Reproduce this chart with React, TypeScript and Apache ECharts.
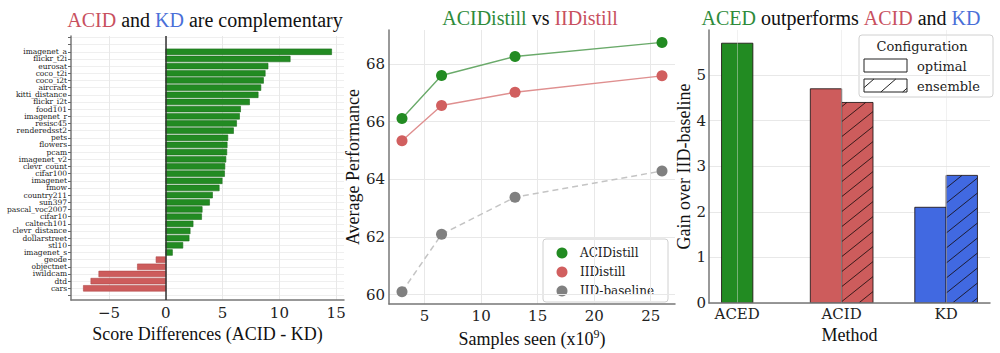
import React, { useEffect, useRef } from 'react';
import * as echarts from 'echarts';

// ---------- data ----------
const categories = ['imagenet_a', 'flickr_t2i', 'eurosat', 'coco_t2i', 'coco_i2t', 'aircraft', 'kitti_distance', 'flickr_i2t', 'food101', 'imagenet_r', 'resisc45', 'renderedsst2', 'pets', 'flowers', 'pcam', 'imagenet_v2', 'clevr_count', 'cifar100', 'imagenet', 'fmow', 'country211', 'sun397', 'pascal_voc2007', 'cifar10', 'caltech101', 'clevr_distance', 'dollarstreet', 'stl10', 'imagenet_s', 'geode', 'objectnet', 'iwildcam', 'dtd', 'cars'];
const scoreDiffs = [14.6, 10.95, 9.0, 8.75, 8.6, 8.37, 8.13, 7.37, 6.58, 6.49, 6.23, 5.96, 5.46, 5.4, 5.37, 5.29, 5.2, 5.17, 4.96, 4.7, 4.11, 3.85, 3.2, 3.15, 2.4, 2.14, 2.05, 1.5, 0.58, -0.86, -2.5, -5.9, -6.6, -7.26];

const samplesSeen = [3, 6.5, 13, 26];
const acidistill = [66.11, 67.6, 68.26, 68.75];
const iidistill = [65.34, 66.56, 67.02, 67.59];
const iidBaseline = [60.1, 62.09, 63.38, 64.29];

const methods = ['ACED', 'ACID', 'KD'];
const optimalGain = [5.7, 4.7, 2.1];
const ensembleGain: (number | null)[] = [null, 4.4, 2.8];

// ---------- styles ----------
const GREEN = '#228B22';
const RED = '#CD5C5C';
const BLUE = '#4169E1';
const T_GREEN = '#2e8b3a';
const T_RED = '#c8505e';
const T_BLUE = '#4a6fd8';
const methodColors = [GREEN, RED, BLUE];
const SERIF_T = "'Liberation Serif', 'Times New Roman', serif";
const SERIF_L = "'DejaVu Serif', serif";
const SPINE = '#777';
const GRIDC = '#e8e8e8';

const LEFT_MIN = -8.35, LEFT_MAX = 15.69;
const LEFT_YMIN = -2.2, LEFT_YMAX = 34.63;

function hatchLines(x0: number, y0: number, x1: number, y1: number, spacing: number, slope: number, stroke: string) {
  const out: any[] = [];
  const kmin = y0 + slope * x0;
  const kmax = y1 + slope * x1;
  for (let k = Math.ceil(kmin / spacing) * spacing; k <= kmax; k += spacing) {
    const xa = Math.max(x0, (k - y1) / slope);
    const xb = Math.min(x1, (k - y0) / slope);
    if (xb - xa > 0.5) {
      out.push({
        type: 'line',
        shape: { x1: xa, y1: k - slope * xa, x2: xb, y2: k - slope * xb },
        style: { stroke, lineWidth: 1 },
      });
    }
  }
  return out;
}

const minusFmt = (v: number) => (v < 0 ? '\u2212' + Math.abs(v) : String(v));

export default function App() {
  const ref = useRef<HTMLDivElement>(null);
  useEffect(() => {
    if (!ref.current) return;
    const chart = echarts.init(ref.current, undefined, { renderer: 'svg' });

    const leftData = scoreDiffs.map((v, i) => [v, i]);
    const rightData: any[] = [];
    methods.forEach((_, i) => {
      const hasEns = ensembleGain[i] != null;
      rightData.push([i, optimalGain[i], hasEns ? -0.15 : 0, 0]);
      if (hasEns) rightData.push([i, ensembleGain[i], 0.15, 1]);
    });

    const tickLabel = { fontFamily: SERIF_L, fontSize: 15, color: '#222' };
    const nameStyle = { fontFamily: SERIF_T, fontSize: 18, color: '#111' };
    const spine = { show: true, onZero: false, lineStyle: { color: SPINE, width: 1.5 } };

    const option: any = {
      animation: false,
      backgroundColor: '#fff',
      grid: [
        { left: 71, top: 36, width: 273, height: 264 },
        { left: 389, top: 30, width: 286, height: 278 },
        { left: 709, top: 30, width: 281, height: 273 },
      ],
      xAxis: [
        {
          gridIndex: 0, type: 'value', min: LEFT_MIN, max: LEFT_MAX, minInterval: 5, maxInterval: 5,
          axisLine: spine,
          axisTick: { show: false },
          axisLabel: { ...tickLabel, margin: 5, formatter: minusFmt, showMinLabel: false, showMaxLabel: false },
          splitLine: { show: true, showMinLine: false, showMaxLine: false, lineStyle: { color: GRIDC, width: 1 } },
          name: 'Score Differences (ACID - KD)', nameLocation: 'middle', nameGap: 6, nameTextStyle: nameStyle,
        },
        {
          gridIndex: 1, type: 'value', min: 1.85, max: 27.15, minInterval: 5, maxInterval: 5,
          axisLine: spine,
          axisTick: { show: false },
          axisLabel: { ...tickLabel, margin: 4, showMinLabel: false, showMaxLabel: false },
          splitLine: { show: true, showMinLine: false, showMaxLine: false, lineStyle: { color: GRIDC, width: 1 } },
          name: '{a|Samples seen (x10}{s|9}{a|)}', nameLocation: 'middle', nameGap: 16,
          nameTextStyle: {
            rich: {
              a: { fontFamily: SERIF_T, fontSize: 18, color: '#111' },
              s: { fontFamily: SERIF_T, fontSize: 12, color: '#111', padding: [0, 0, 10, 0] },
            },
          },
        },
        {
          gridIndex: 2, type: 'value', min: -0.27, max: 2.42, minInterval: 1, maxInterval: 1, z: 3,
          axisLine: spine,
          axisTick: { show: false },
          axisLabel: {
            ...tickLabel, margin: 3, showMinLabel: false, showMaxLabel: false,
            formatter: (v: number) => methods[Math.round(v)] ?? '',
          },
          splitLine: { show: true, showMinLine: false, showMaxLine: false, lineStyle: { color: 'rgba(225,225,225,0.45)', width: 1 } },
          name: 'Method', nameLocation: 'middle', nameGap: 17, nameTextStyle: nameStyle,
        },
      ],
      yAxis: [
        {
          gridIndex: 0, type: 'value', inverse: true, min: LEFT_YMIN, max: LEFT_YMAX, minInterval: 1, maxInterval: 1,
          axisLine: spine,
          axisTick: { show: true, length: 3, lineStyle: { color: '#666' } },
          axisLabel: {
            fontFamily: SERIF_L, fontSize: 7.5, lineHeight: 7, color: '#222', margin: 4,
            showMinLabel: false, showMaxLabel: false,
            formatter: (v: number) => {
              const i = Math.round(v);
              return Math.abs(v - i) < 1e-6 && i >= 0 && i < categories.length ? categories[i] : '';
            },
          },
          splitLine: { show: true, showMinLine: false, showMaxLine: false, lineStyle: { color: '#efefef', width: 1 } },
        },
        {
          gridIndex: 1, type: 'value', min: 59.67, max: 69.18, minInterval: 2, maxInterval: 2,
          axisLine: spine,
          axisTick: { show: false },
          axisLabel: { ...tickLabel, margin: 4, showMinLabel: false, showMaxLabel: false },
          splitLine: { show: true, showMinLine: false, showMaxLine: false, lineStyle: { color: GRIDC, width: 1 } },
          name: 'Average Performance', nameLocation: 'middle', nameGap: 20, nameTextStyle: nameStyle,
        },
        {
          gridIndex: 2, type: 'value', min: 0, max: 5.99, interval: 1,
          axisLine: spine,
          axisTick: { show: false },
          axisLabel: { ...tickLabel, margin: 3, showMaxLabel: false },
          splitLine: { show: true, showMaxLine: false, lineStyle: { color: GRIDC, width: 1 } },
          name: 'Gain over IID-baseline', nameLocation: 'middle', nameGap: 15, nameTextStyle: nameStyle,
        },
      ],
      series: [
        {
          type: 'custom', xAxisIndex: 0, yAxisIndex: 0, clip: true,
          data: leftData,
          encode: { x: 0, y: 1 },
          renderItem: (params: any, api: any) => {
            const v = api.value(0);
            const i = api.value(1);
            const p0 = api.coord([0, i]);
            const p1 = api.coord([v, i]);
            const h = api.size([0, 1])[1] * 0.8;
            const c = v >= 0 ? GREEN : RED;
            return {
              type: 'rect',
              shape: { x: Math.min(p0[0], p1[0]), y: p0[1] - h / 2, width: Math.abs(p1[0] - p0[0]), height: h },
              style: { fill: c, stroke: v >= 0 ? '#1d6e1d' : '#b04a4a', lineWidth: 0.6 },
            };
          },
          markLine: {
            silent: true, symbol: ['none', 'none'], label: { show: false },
            lineStyle: { color: '#333', width: 1.5, type: 'solid' },
            data: [[{ coord: [0, LEFT_YMIN] }, { coord: [0, LEFT_YMAX] }]],
          },
          z: 2,
        },
        {
          type: 'line', name: 'IID-baseline', xAxisIndex: 1, yAxisIndex: 1,
          data: samplesSeen.map((x, i) => [x, iidBaseline[i]]),
          symbol: 'circle', symbolSize: 11,
          itemStyle: { color: '#808080' },
          lineStyle: { color: '#c4c4c4', width: 1.5, type: [6, 4] },
        },
        {
          type: 'line', name: 'IIDistill', xAxisIndex: 1, yAxisIndex: 1,
          data: samplesSeen.map((x, i) => [x, iidistill[i]]),
          symbol: 'circle', symbolSize: 11,
          itemStyle: { color: '#d15f5f' },
          lineStyle: { color: '#df8f8f', width: 1.4 },
        },
        {
          type: 'line', name: 'ACIDistill', xAxisIndex: 1, yAxisIndex: 1,
          data: samplesSeen.map((x, i) => [x, acidistill[i]]),
          symbol: 'circle', symbolSize: 11,
          itemStyle: { color: GREEN },
          lineStyle: { color: '#6aaa6a', width: 1.4 },
        },
        {
          type: 'custom', xAxisIndex: 2, yAxisIndex: 2, clip: true,
          data: rightData,
          encode: { x: 0, y: 1 },
          renderItem: (params: any, api: any) => {
            const idx = api.value(0);
            const val = api.value(1);
            const off = api.value(2);
            const hatch = api.value(3);
            const tl = api.coord([idx + off - 0.15, val]);
            const br = api.coord([idx + off + 0.15, 0]);
            const x0 = tl[0], y0 = tl[1], x1 = br[0], y1 = br[1];
            const color = methodColors[Math.round(idx)];
            const children: any[] = [
              { type: 'rect', shape: { x: x0, y: y0, width: x1 - x0, height: y1 - y0 }, style: { fill: color } },
            ];
            if (hatch) children.push(...hatchLines(x0, y0, x1, y1, 15, 0.8, 'rgba(20,10,10,0.8)'));
            children.push({
              type: 'rect', shape: { x: x0, y: y0, width: x1 - x0, height: y1 - y0 },
              style: { fill: 'none', stroke: 'rgba(30,20,20,0.85)', lineWidth: 1 },
            });
            return { type: 'group', children };
          },
          z: 2,
        },
      ],
      graphic: [
        {
          type: 'text', x: 205, y: 20,
          style: {
            text: '{r|ACID}{k| and }{b|KD}{k| are complementary}',
            align: 'center', verticalAlign: 'middle',
            rich: {
              r: { fill: T_RED, fontFamily: SERIF_T, fontSize: 20 },
              b: { fill: T_BLUE, fontFamily: SERIF_T, fontSize: 20 },
              k: { fill: '#111', fontFamily: SERIF_T, fontSize: 20 },
            },
          },
        },
        {
          type: 'text', x: 530, y: 18,
          style: {
            text: '{g|ACIDistill}{k| vs }{r|IIDistill}',
            align: 'center', verticalAlign: 'middle',
            rich: {
              g: { fill: T_GREEN, fontFamily: SERIF_T, fontSize: 20 },
              r: { fill: T_RED, fontFamily: SERIF_T, fontSize: 20 },
              k: { fill: '#111', fontFamily: SERIF_T, fontSize: 20 },
            },
          },
        },
        {
          type: 'text', x: 841, y: 18,
          style: {
            text: '{g|ACED}{k| outperforms }{r|ACID}{k| and }{b|KD}',
            align: 'center', verticalAlign: 'middle',
            rich: {
              g: { fill: T_GREEN, fontFamily: SERIF_T, fontSize: 20 },
              r: { fill: T_RED, fontFamily: SERIF_T, fontSize: 20 },
              b: { fill: T_BLUE, fontFamily: SERIF_T, fontSize: 20 },
              k: { fill: '#111', fontFamily: SERIF_T, fontSize: 20 },
            },
          },
        },
        // middle legend
        {
          type: 'group', x: 543, y: 239, z: 10,
          children: [
            { type: 'rect', shape: { x: 0, y: 0, width: 125, height: 63, r: 3 }, style: { fill: 'rgba(255,255,255,0.9)', stroke: '#d0d0d0', lineWidth: 1 } },
            { type: 'circle', shape: { cx: 19, cy: 14, r: 5.5 }, style: { fill: GREEN } },
            { type: 'circle', shape: { cx: 19, cy: 33, r: 5.5 }, style: { fill: '#d15f5f' } },
            { type: 'circle', shape: { cx: 19, cy: 52, r: 5.5 }, style: { fill: '#808080' } },
            { type: 'text', x: 37, y: 14, style: { text: 'ACIDistill', fontFamily: SERIF_L, fontSize: 12, fill: '#222', verticalAlign: 'middle' } },
            { type: 'text', x: 37, y: 33, style: { text: 'IIDistill', fontFamily: SERIF_L, fontSize: 12, fill: '#222', verticalAlign: 'middle' } },
            { type: 'text', x: 37, y: 52, style: { text: 'IID-baseline', fontFamily: SERIF_L, fontSize: 12, fill: '#222', verticalAlign: 'middle' } },
          ],
        },
        // right legend
        {
          type: 'group', x: 859, y: 35, z: 10,
          children: [
            { type: 'rect', shape: { x: 0, y: 0, width: 134, height: 62, r: 3 }, style: { fill: 'rgba(255,255,255,0.9)', stroke: '#d0d0d0', lineWidth: 1 } },
            { type: 'text', x: 63, y: 11, style: { text: 'Configuration', fontFamily: SERIF_L, fontSize: 13, fill: '#222', align: 'center', verticalAlign: 'middle' } },
            { type: 'rect', shape: { x: 5, y: 24, width: 43, height: 13 }, style: { fill: '#fff', stroke: '#222', lineWidth: 1 } },
            { type: 'rect', shape: { x: 5, y: 44, width: 43, height: 13 }, style: { fill: '#fff' } },
            ...hatchLines(5, 44, 48, 57, 19, 0.87, '#222'),
            { type: 'rect', shape: { x: 5, y: 44, width: 43, height: 13 }, style: { fill: 'none', stroke: '#222', lineWidth: 1 } },
            { type: 'text', x: 58, y: 31, style: { text: 'optimal', fontFamily: SERIF_L, fontSize: 13, fill: '#222', verticalAlign: 'middle' } },
            { type: 'text', x: 58, y: 51, style: { text: 'ensemble', fontFamily: SERIF_L, fontSize: 13, fill: '#222', verticalAlign: 'middle' } },
          ],
        },
      ],
    };

    chart.setOption(option);
    return () => chart.dispose();
  }, []);

  return <div ref={ref} style={{ position: 'fixed', left: 0, top: 0, width: 1000, height: 353, background: '#fff' }} />;
}
